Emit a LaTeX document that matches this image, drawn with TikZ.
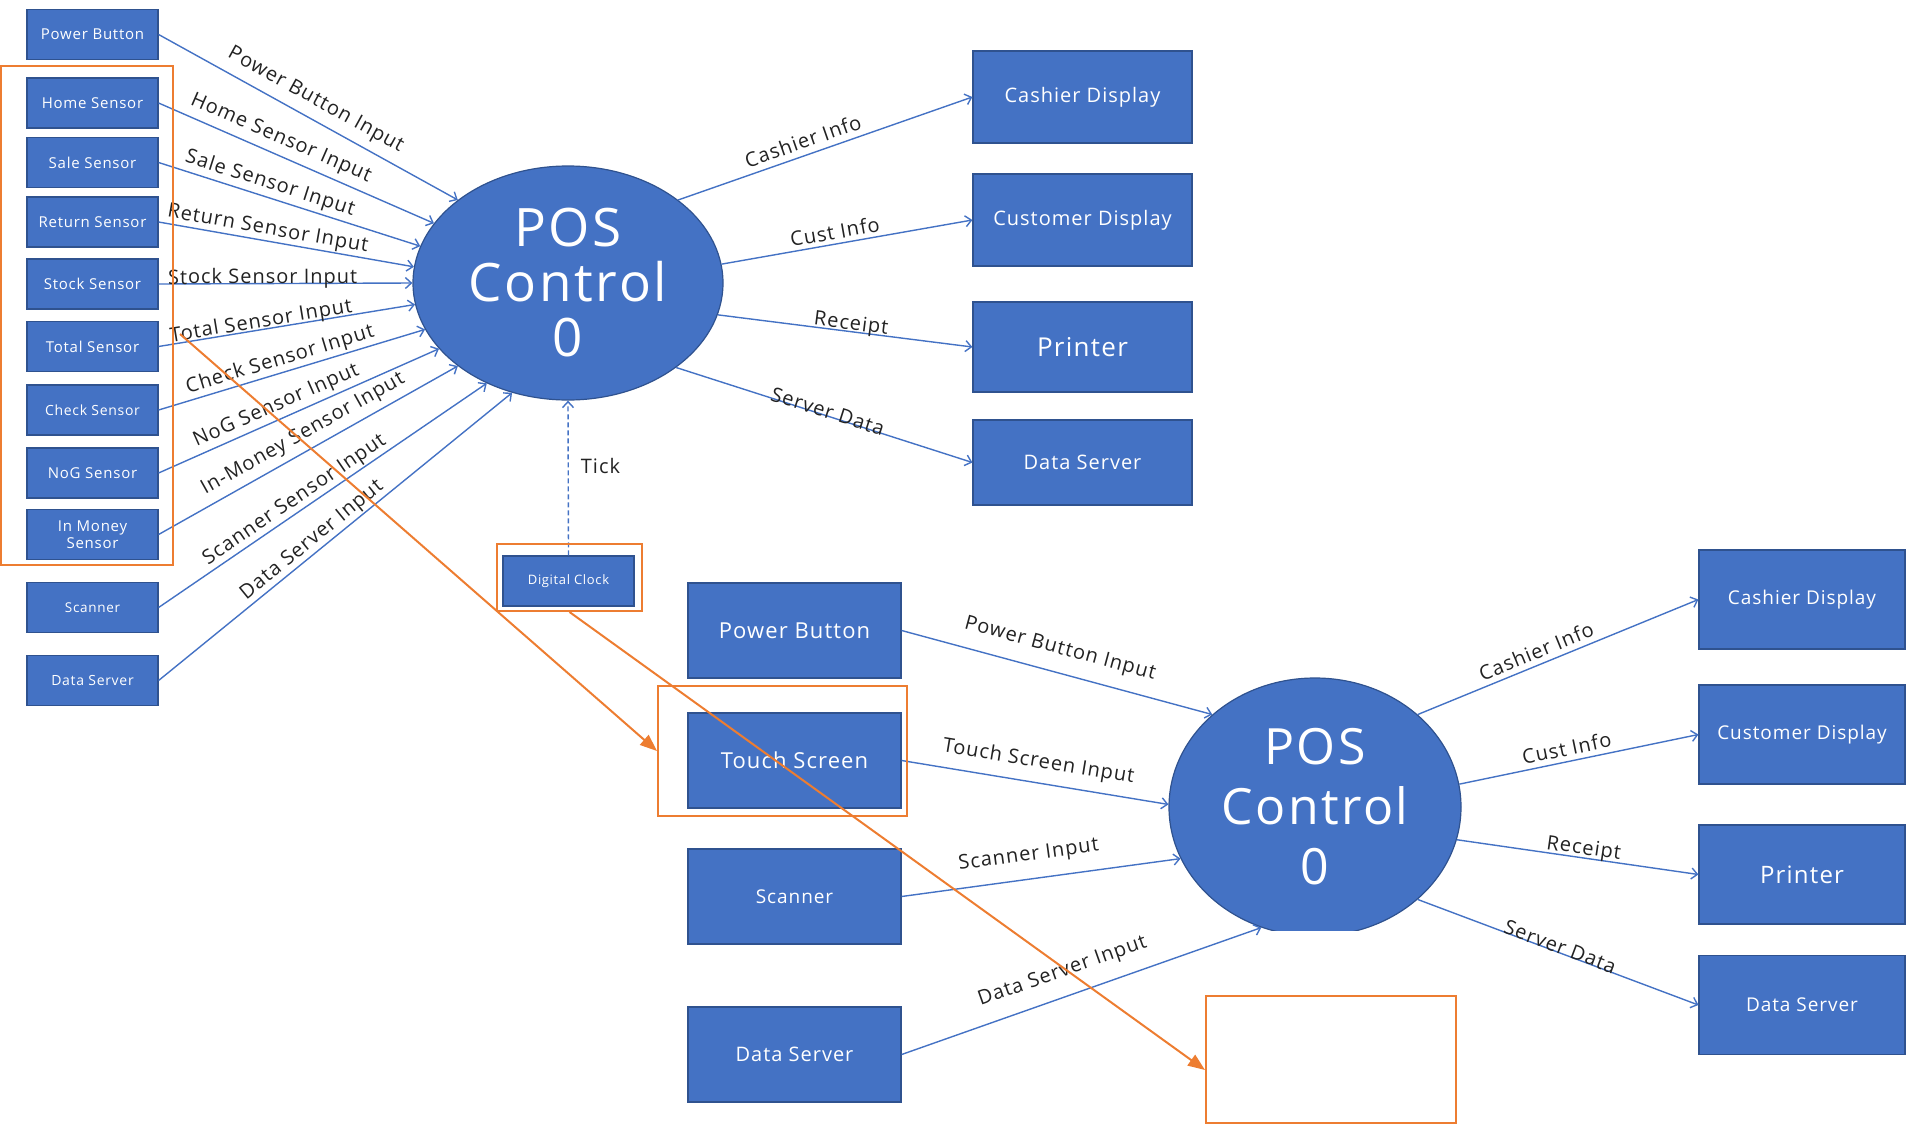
\documentclass[tikz,border=0pt]{standalone}
\usepackage{fontspec}
\setmainfont{Open Sans}[LetterSpace=5]
\usetikzlibrary{arrows.meta,shapes.geometric}
\definecolor{boxblue}{HTML}{4472C4}
\definecolor{edgeblue}{HTML}{2F528F}
\definecolor{lineblue}{HTML}{4472C4}
\definecolor{orng}{HTML}{ED7D31}
\definecolor{lbltext}{HTML}{222222}
\begin{document}
\begin{tikzpicture}[x=0.5pt,y=-0.5pt,
  fsz/.style 2 args={font=\fontsize{#1}{#2}\selectfont},
  box/.style={draw=edgeblue, line width=0.6pt, fill=boxblue, text=white, inner sep=0pt, align=center},
  sbox/.style={box, minimum width=65.5pt, minimum height=25pt, fsz={7.5}{8.5}},
  rbox/.style={box, minimum width=109.5pt, fsz={10}{12}},
  bbox/.style={box, minimum width=106.5pt, minimum height=47.5pt},
  brbox/.style={box, minimum width=103pt, minimum height=49.5pt, fsz={9.5}{11}},
  ell/.style={ellipse, draw=edgeblue, line width=0.6pt, fill=boxblue, text=white, inner sep=0pt, align=center},
  flow/.style={draw=lineblue, line width=0.7pt, -{Straight Barb[length=3pt,width=5.5pt]}},
  lbl/.style={sloped, inner sep=0pt, fsz={10}{12}, text=lbltext},
  oframe/.style={draw=orng, line width=1pt, inner sep=0pt},
  oarrow/.style={draw=orng, line width=1pt, -{Triangle[length=8.5pt,width=6.5pt]}}
]
\useasboundingbox (0,0) rectangle (1907,1125);

% ---------- top diagram: sources ----------
\node[sbox] (pb1) at (92.5,34.5) {Power Button};
\node[sbox] (hs) at (92.5,103) {Home Sensor};
\node[sbox] (ss) at (92.5,162.5) {Sale Sensor};
\node[sbox] (rs) at (92.5,222) {Return Sensor};
\node[sbox] (sts) at (92.5,284) {Stock Sensor};
\node[sbox] (ts) at (92.5,346.5) {Total Sensor};
\node[sbox, fsz={7}{8}] (cs) at (92.5,410) {Check Sensor};
\node[sbox] (ns) at (92.5,473) {NoG Sensor};
\node[sbox] (ims) at (92.5,534.5) {In Money\\Sensor};
\node[sbox, fsz={6.75}{8}] (sc1) at (92.5,607.5) {Scanner};
\node[sbox, fsz={7}{8}] (ds1) at (92.5,680.5) {Data Server};

% ---------- top process ----------
\node[ell, minimum width=155pt, minimum height=117pt, fsz={26.5}{27.5}] (pos1) at (568,283) {POS\\Control\\0};

% ---------- top sinks ----------
\node[rbox, minimum height=46pt] (cd1) at (1082.5,97) {Cashier Display};
\node[rbox, minimum height=46pt] (cud1) at (1082.5,220) {Customer Display};
\node[rbox, minimum height=45pt, fsz={13}{15}] (pr1) at (1082.5,347) {Printer};
\node[rbox, minimum height=42.5pt] (dsr1) at (1082.5,462.5) {Data Server};

\node[sbox, fsz={6.5}{8}] (dc) at (568.5,581) {Digital Clock};

% ---------- bottom diagram ----------
\node[bbox, fsz={11}{13}] (pb2) at (794.5,630.5) {Power Button};
\node[bbox, fsz={11}{13}] (tch) at (794.5,760.5) {Touch Screen};
\node[bbox, fsz={9.5}{11}] (sc2) at (794.5,896.5) {Scanner};
\node[bbox, fsz={10}{12}] (ds2) at (794.5,1054.5) {Data Server};

\begin{scope}
  \clip (1100,600) rectangle (1500,930);
  \node[ell, minimum width=146pt, minimum height=129pt, fsz={25}{30}] (pos2) at (1315,807) {POS\\Control\\0};
\end{scope}

\node[brbox] (cd2) at (1802,599.5) {Cashier Display};
\node[brbox] (cud2) at (1802,734.5) {Customer Display};
\node[brbox, fsz={12}{14}] (pr2) at (1802,874.5) {Printer};
\node[brbox] (dsr2) at (1802,1005) {Data Server};

% ---------- top flows ----------
\draw[flow] (pb1.east) -- node[lbl, pos=0.495, above=4pt] {Power Button Input} (pos1.143.2);
\draw[flow] (hs.east) -- node[lbl, pos=0.42, above=3pt] {Home Sensor Input} (pos1.156.5);
\draw[flow] (ss.east) -- node[lbl, pos=0.41, above=1.5pt] {Sale Sensor Input} (pos1.166.9);
\draw[flow] (rs.east) -- node[lbl, pos=0.42, above=0.5pt] {Return Sensor Input} (pos1.174.6);
\draw[flow] (sts.east) -- node[lbl, pos=0.41, above=-2.8pt] {Stock Sensor Input} (pos1.180);
\draw[flow] (ts.east) -- node[lbl, pos=0.405, above=-1.6pt] {Total Sensor Input} (pos1.188.5);
\draw[flow] (cs.east) -- node[lbl, pos=0.47, above=1pt] {Check Sensor Input} (pos1.198.6);
\draw[flow] (ns.east) -- node[lbl, pos=0.44, above=1.6pt] {NoG Sensor Input} (pos1.207.6);
\draw[flow] (ims.east) -- node[lbl, pos=0.51, above=3pt] {In-Money Sensor Input} (pos1.217.7);
\draw[flow] (sc1.east) -- node[lbl, pos=0.435, above=0.7pt] {Scanner Sensor Input} (pos1.231);
\draw[flow] (ds1.east) -- node[lbl, pos=0.455, above=0.6pt] {Data Server Input} (pos1.243);

\draw[flow] (pos1.37.2) -- node[lbl, pos=0.44, above=3pt] {Cashier Info} (cd1.west);
\draw[flow] (pos1.7.1) -- node[lbl, pos=0.46, above=2pt] {Cust Info} (cud1.west);
\draw[flow] (pos1.348.1) -- node[lbl, pos=0.52, above=-1.8pt] {Receipt} (pr1.west);
\draw[flow] (pos1.322.4) -- node[lbl, pos=0.507, above=-1.7pt] {Server Data} (dsr1.west);

\draw[flow, dashed, dash pattern=on 2.5pt off 1.5pt] (dc.north) -- node[pos=0.58, right=6pt, inner sep=0pt, fsz={10}{12}, text=lbltext] {Tick} (pos1.270);

% ---------- bottom flows ----------
\draw[flow] (pb2.east) -- node[lbl, pos=0.49, above=6.5pt] {Power Button Input} (pos2.138.3);
\draw[flow] (tch.east) -- node[lbl, pos=0.5, above=5pt] {Touch Screen Input} (pos2.179.6);
\draw[flow] (sc2.east) -- node[lbl, pos=0.467, above=6.5pt] {Scanner Input} (pos2.201.1);
\draw[flow] (ds2.east) -- node[lbl, pos=0.47, above=7pt] {Data Server Input} (pos2.246);

\draw[flow] (pos2.42.1) -- node[lbl, pos=0.44, above=2.5pt] {Cashier Info} (cd2.west);
\draw[flow] (pos2.9.8) -- node[lbl, pos=0.46, above=2.5pt] {Cust Info} (cud2.west);
\draw[flow] (pos2.347.3) -- node[lbl, pos=0.52, above=-1pt] {Receipt} (pr2.west);
\draw[flow] (pos2.318.2) -- node[lbl, pos=0.5, above=-1pt] {Server Data} (dsr2.west);

% ---------- orange annotations ----------
\node[oframe, minimum width=86pt, minimum height=249.5pt] (lf) at (87,315.5) {};
\node[oframe, minimum width=72.5pt, minimum height=33.5pt] (dcf) at (569.5,577.5) {};
\node[oframe, minimum width=124.5pt, minimum height=65pt] (tsf) at (782.5,751) {};
\node[oframe, minimum width=125pt, minimum height=63.5pt] (eb) at (1331,1059) {};

\coordinate (o1) at (180,334);
\draw[oarrow] (o1) -- (tsf.west);
\draw[oarrow] (dcf.south) -- ([yshift=-5.5pt]eb.west);
\end{tikzpicture}
\end{document}
